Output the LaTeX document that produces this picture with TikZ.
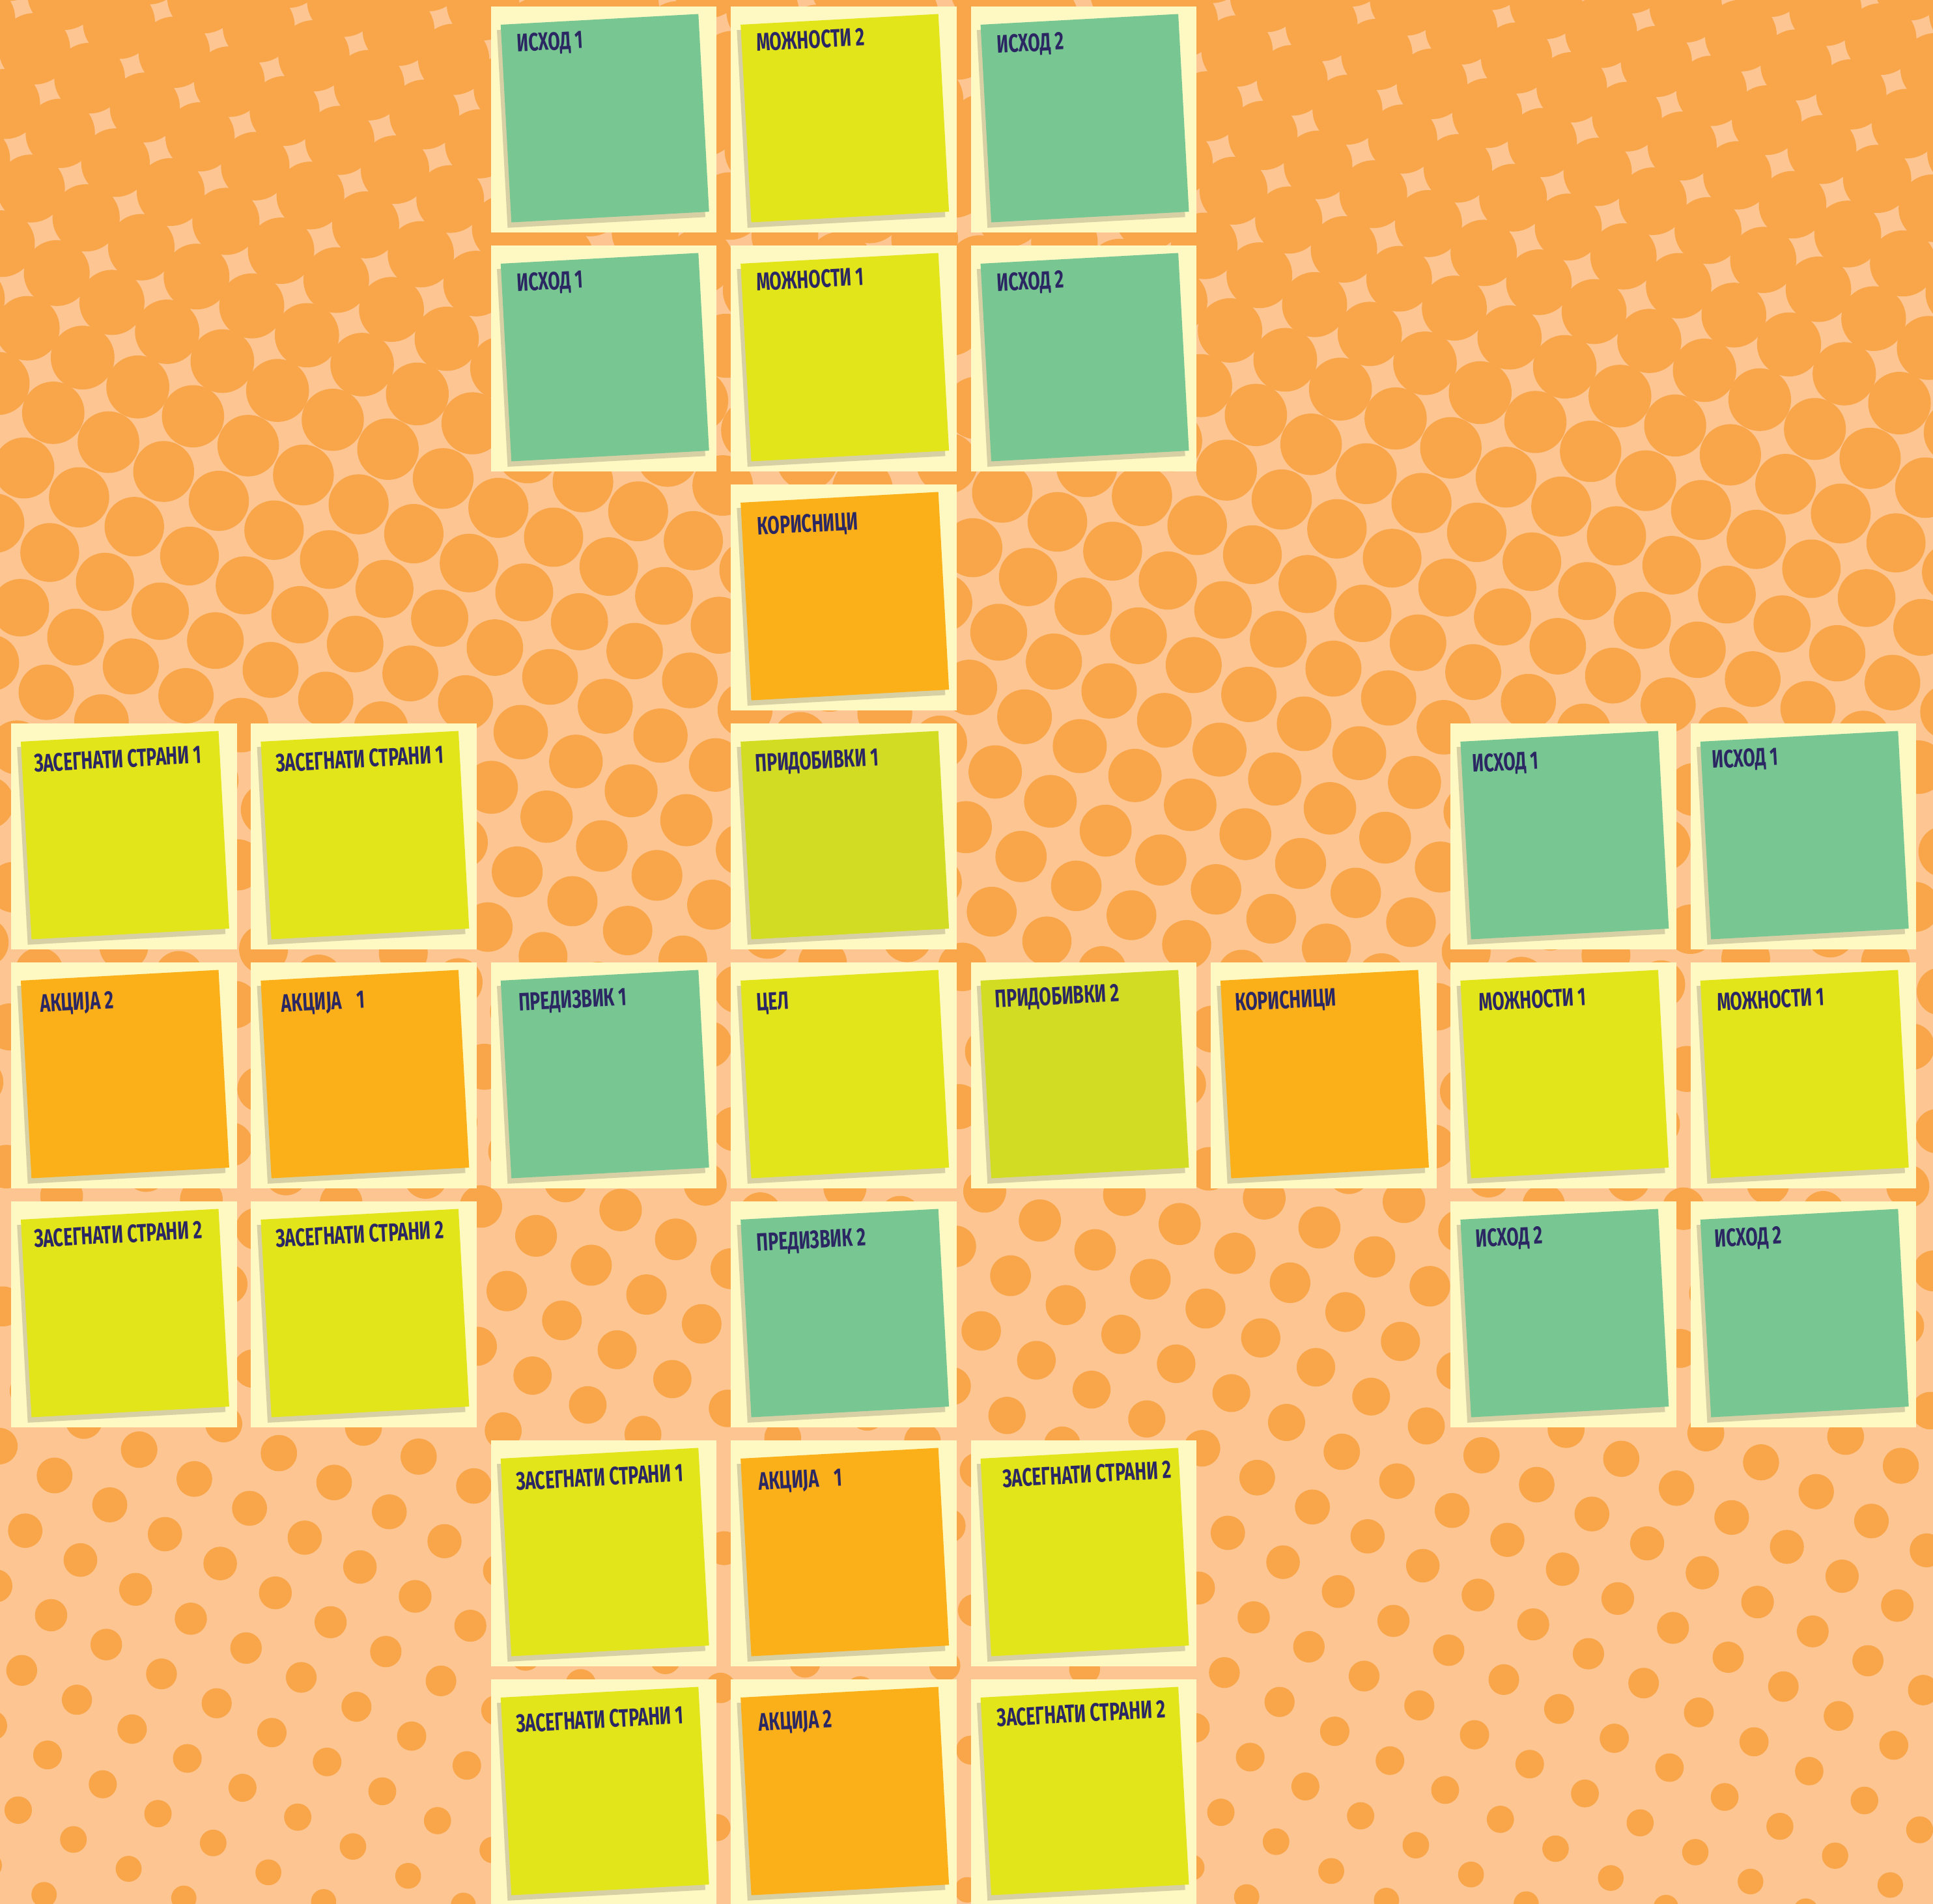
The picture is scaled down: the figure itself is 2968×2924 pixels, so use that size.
\documentclass[tikz,border=0pt]{standalone}
\usepackage{fontspec}
\newfontfamily\notefont[FakeStretch=0.69]{Fira Sans}
\definecolor{bgc}{HTML}{FCC592}
\definecolor{dotc}{HTML}{F9A64B}
\definecolor{cream}{HTML}{FEF8C2}
\definecolor{shadowc}{HTML}{D7D0A5}
\definecolor{notegreen}{HTML}{78C793}
\definecolor{noteyel}{HTML}{E3E51B}
\definecolor{notelime}{HTML}{D2DC22}
\definecolor{noteorg}{HTML}{FBB01A}
\definecolor{ink}{HTML}{2B2763}
\tikzset{
  cardframe/.style={fill=cream, draw=none, inner sep=0pt, minimum width=3.465cm, minimum height=3.47cm},
  lbl/.style={font={\notefont\bfseries\fontsize{11pt}{12pt}\selectfont}, text=ink, inner sep=0pt, transform shape},
}
\newcommand\card[6]{%
  \pgfmathsetmacro\cx{190.25+368.4*#1}%
  \pgfmathsetmacro\cy{183.5+367*#2}%
  \node[cardframe] (f#1#2) at (\cx,\cy) {};
  \begin{scope}[shift={(\cx+1.7,\cy-2)}, rotate=3.1]
    \fill[shadowc] (-158.2,-144) rectangle +(304,304);
    \fill[#3] (-152,-152) rectangle (152,152);
    \node[lbl, anchor=base west] (t#1#2) at (-134+#5,-104+#6) {#4};
  \end{scope}}
\begin{document}
\begin{tikzpicture}[x=0.01cm, y=-0.01cm]
\useasboundingbox (0,0) rectangle (2968,2924);
\fill[bgc] (0,0) rectangle (2968,2924);
\begin{scope}
  \clip (0,0) rectangle (2968,2924);
  \foreach \i in {-6,...,45}{
    \foreach \j in {-17,...,30}{
      \pgfmathsetmacro\px{13.16+84.76*\i-45.07*\j}
      \pgfmathsetmacro\py{-54.92+45.07*\i+84.76*\j}
      \pgfmathtruncatemacro\ok{and(and(\px>-80,\px<3050),and(\py>-80,\py<3010))}
      \ifnum\ok=1
        \pgfmathsetmacro\rr{55.8-0.0125*\py}
        \fill[dotc] (\px,\py) circle[radius=\rr];
      \fi
    }
  }
\end{scope}
\card{2}{0}{notegreen}{ИСХОД 1}{5}{-5}
\card{3}{0}{noteyel}{МОЖНОСТИ 2}{4}{-6}
\card{4}{0}{notegreen}{ИСХОД 2}{5}{-3}
\card{2}{1}{notegreen}{ИСХОД 1}{5}{-4}
\card{3}{1}{noteyel}{МОЖНОСТИ 1}{4}{-5}
\card{4}{1}{notegreen}{ИСХОД 2}{5}{-4}
\card{3}{2}{noteorg}{КОРИСНИЦИ}{5}{3}
\card{0}{3}{noteyel}{ЗАСЕГНАТИ СТРАНИ 1}{0}{0}
\card{1}{3}{noteyel}{ЗАСЕГНАТИ СТРАНИ 1}{3}{0}
\card{3}{3}{notelime}{ПРИДОБИВКИ 1}{2}{0}
\card{6}{3}{notegreen}{ИСХОД 1}{-2}{0}
\card{7}{3}{notegreen}{ИСХОД 1}{-2}{-6}
\card{0}{4}{noteorg}{АКЦИЈА 2}{9}{2}
\card{1}{4}{noteorg}{АКЦИЈА\hspace{0.6em}1}{11}{2}
\card{2}{4}{notegreen}{ПРЕДИЗВИК 1}{7}{0}
\card{3}{4}{noteyel}{ЦЕЛ}{4}{0}
\card{4}{4}{notelime}{ПРИДОБИВКИ 2}{2}{-5}
\card{5}{4}{noteorg}{КОРИСНИЦИ}{2}{0}
\card{6}{4}{noteyel}{МОЖНОСТИ 1}{8}{0}
\card{7}{4}{noteyel}{МОЖНОСТИ 1}{5}{0}
\card{0}{5}{noteyel}{ЗАСЕГНАТИ СТРАНИ 2}{0}{-4}
\card{1}{5}{noteyel}{ЗАСЕГНАТИ СТРАНИ 2}{3}{-4}
\card{3}{5}{notegreen}{ПРЕДИЗВИК 2}{4}{2}
\card{6}{5}{notegreen}{ИСХОД 2}{3}{-4}
\card{7}{5}{notegreen}{ИСХОД 2}{2}{-4}
\card{2}{6}{noteyel}{ЗАСЕГНАТИ СТРАНИ 1}{3}{2}
\card{3}{6}{noteorg}{АКЦИЈА\hspace{0.6em}1}{7}{2}
\card{4}{6}{noteyel}{ЗАСЕГНАТИ СТРАНИ 2}{14}{-2}
\card{2}{7}{noteyel}{ЗАСЕГНАТИ СТРАНИ 1}{3}{7}
\card{3}{7}{noteorg}{АКЦИЈА 2}{7}{5}
\card{4}{7}{noteyel}{ЗАСЕГНАТИ СТРАНИ 2}{5}{-2}
\end{tikzpicture}
\end{document}
